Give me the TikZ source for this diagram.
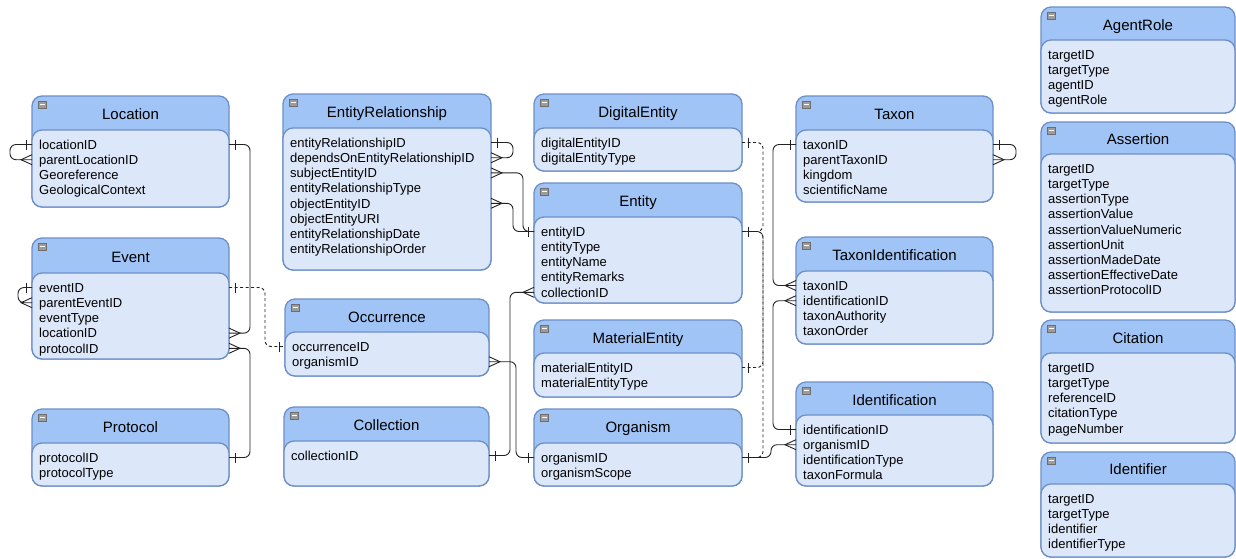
\documentclass[tikz,border=0pt]{standalone}
\usepackage{fontspec}
\setmainfont{Liberation Sans}
\usetikzlibrary{arrows.meta}
\definecolor{Head}{HTML}{A0C4F5}
\definecolor{Body}{HTML}{DCE7FA}
\definecolor{Edge}{HTML}{6D8FC7}
\definecolor{Knob}{HTML}{9C9C9C}
\definecolor{Wire}{HTML}{222222}

% one table: name, title, left, right, top, header bottom, bottom, fields
\newcommand{\ertable}[8]{%
 \draw[tablebox,fill=Head] (#3,#5) rectangle (#4,#7);
 \draw[tablebox,fill=Body] (#3,#6) rectangle (#4,#7);
 \draw[fill=Knob,draw=Knob!70!black,line width=0.5pt] (#3+6,#5+5) rectangle ++(8,7);
 \draw[white,line width=1pt] (#3+7.5,#5+8.5) -- ++(5,0);
 \node[titletext] (#1) at ({(#3+#4)/2},{(#5+#6)/2+1.5}) {#2};
 \foreach \fld [count=\k] in {#8}{
  \node[fieldtext] (#1-f\k) at (#3+7,{#6+14.5+15.2*(\k-1)}) {\fld};
  \coordinate (#1-\k-w) at (#3,{#6+14.5+15.2*(\k-1)});
  \coordinate (#1-\k-e) at (#4,{#6+14.5+15.2*(\k-1)});
 }
}

\begin{document}
\begin{tikzpicture}[x=1pt,y=-1pt,
 tablebox/.style={draw=Edge,line width=1.3pt,rounded corners=10pt},
 titletext/.style={font=\fontsize{15}{18}\selectfont,text height=10.8pt,text depth=0pt,inner sep=0pt},
 fieldtext/.style={anchor=west,font=\fontsize{13}{15}\selectfont,text height=9.4pt,text depth=0pt,inner sep=0pt},
 wire/.style={draw=Wire,line width=0.9pt,rounded corners=6pt},
 dashwire/.style={wire,dash pattern=on 3pt off 2.5pt},
 onemark/.pic={\draw[Wire,line width=0.9pt] (6,-5) -- (6,5);},
 manymark/.pic={\draw[Wire,line width=0.9pt] (0,-5) -- (11,0) -- (0,5);}]
\useasboundingbox[fill=white] (0,0) rectangle (1236,558);

% left column
\ertable{Location}{Location}{32}{229}{96}{130}{207}{locationID,parentLocationID,Georeference,GeologicalContext}
\ertable{Event}{Event}{32}{229}{238}{273}{359}{eventID,parentEventID,eventType,locationID,protocolID}
\ertable{Protocol}{Protocol}{32}{229}{409}{443}{486}{protocolID,protocolType}

% second column
\ertable{EntRel}{EntityRelationship}{283}{491}{94}{128}{270}{entityRelationshipID,dependsOnEntityRelationshipID,subjectEntityID,entityRelationshipType,objectEntityID,objectEntityURI,entityRelationshipDate,entityRelationshipOrder}
\ertable{Occurrence}{Occurrence}{285}{489}{299}{332}{376}{occurrenceID,organismID}
\ertable{Collection}{Collection}{284}{489}{407}{441}{486}{collectionID}

% entities
\ertable{Digital}{DigitalEntity}{534}{742}{94}{128}{171}{digitalEntityID,digitalEntityType}
\ertable{Entity}{Entity}{534}{742}{183}{217}{303}{entityID,entityType,entityName,entityRemarks,collectionID}
\ertable{Material}{MaterialEntity}{534}{742}{320}{353}{397}{materialEntityID,materialEntityType}
\ertable{Organism}{Organism}{534}{742}{409}{443}{486}{organismID,organismScope}

% taxa
\ertable{Taxon}{Taxon}{796}{993}{96}{130}{202}{taxonID,parentTaxonID,kingdom,scientificName}
\ertable{TaxonId}{TaxonIdentification}{796}{993}{237}{271}{344}{taxonID,identificationID,taxonAuthority,taxonOrder}
\ertable{Ident}{Identification}{796}{993}{382}{415}{486}{identificationID,organismID,identificationType,taxonFormula}

% common tables
\ertable{Agent}{AgentRole}{1041}{1235}{7}{40}{113}{targetID,targetType,agentID,agentRole}
\ertable{Assertion}{Assertion}{1041}{1235}{122}{154}{312}{targetID,targetType,assertionType,assertionValue,assertionValueNumeric,assertionUnit,assertionMadeDate,assertionEffectiveDate,assertionProtocolID}
\ertable{Citation}{Citation}{1041}{1235}{320}{353}{443}{targetID,targetType,referenceID,citationType,pageNumber}
\ertable{Identifier}{Identifier}{1041}{1235}{452}{484}{557}{targetID,targetType,identifier,identifierType}

% relations
\draw[wire] (Location-1-w) -- ++(-22,0) |- (Location-2-w);
\draw[wire] (Event-1-w) -- ++(-14,0) |- (Event-2-w);
\draw[wire] (Location-1-e) -- ++(21,0) |- (Event-4-e);
\draw[wire] (Protocol-1-e) -- ++(21,0) |- (Event-5-e);
\draw[dashwire] (Event-1-e) -- ++(36,0) |- (Occurrence-1-w);
\draw[wire] (EntRel-1-e) -- ++(22,0) |- (EntRel-2-e);
\draw[wire] (EntRel-3-e) -- ++(32,0) |- (Entity-1-w);
\draw[wire] (EntRel-5-e) -- ++(22,0) |- (Entity-1-w);
\draw[wire] (Collection-1-e) -- ++(21,0) |- (Entity-5-w);
\draw[wire] (Occurrence-2-e) -- ++(27,0) |- (Organism-1-w);
\draw[dashwire] (Digital-1-e) -- ++(21,0) |- (Entity-1-e);
\draw[dashwire] (Material-1-e) -- ++(21,0) |- (Entity-1-e);
\draw[dashwire] (Organism-1-e) -- ++(21,0) |- (Entity-1-e);
\draw[wire] (Organism-1-e) -- ++(29,0) |- (Ident-2-w);
\draw[wire] (Taxon-1-w) -- ++(-23,0) |- (TaxonId-1-w);
\draw[wire] (Ident-1-w) -- ++(-23,0) |- (TaxonId-2-w);
\draw[wire] (Taxon-1-e) -- ++(23,0) |- (Taxon-2-e);

% ends
\foreach \p in {Location-1-e,Protocol-1-e,Event-1-e,EntRel-1-e,Collection-1-e,
 Digital-1-e,Entity-1-e,Material-1-e,Organism-1-e,Taxon-1-e}
 \pic at (\p) {onemark};
\foreach \p in {Location-1-w,Event-1-w,Occurrence-1-w,Entity-1-w,Organism-1-w,
 Taxon-1-w,Ident-1-w}
 \pic[rotate=180] at (\p) {onemark};
\foreach \p in {Event-4-e,Event-5-e,EntRel-2-e,EntRel-3-e,EntRel-5-e,
 Occurrence-2-e,Taxon-2-e}
 \pic at (\p) {manymark};
\foreach \p in {Location-2-w,Event-2-w,Entity-5-w,Ident-2-w,TaxonId-1-w,TaxonId-2-w}
 \pic[rotate=180] at (\p) {manymark};
\end{tikzpicture}
\end{document}
